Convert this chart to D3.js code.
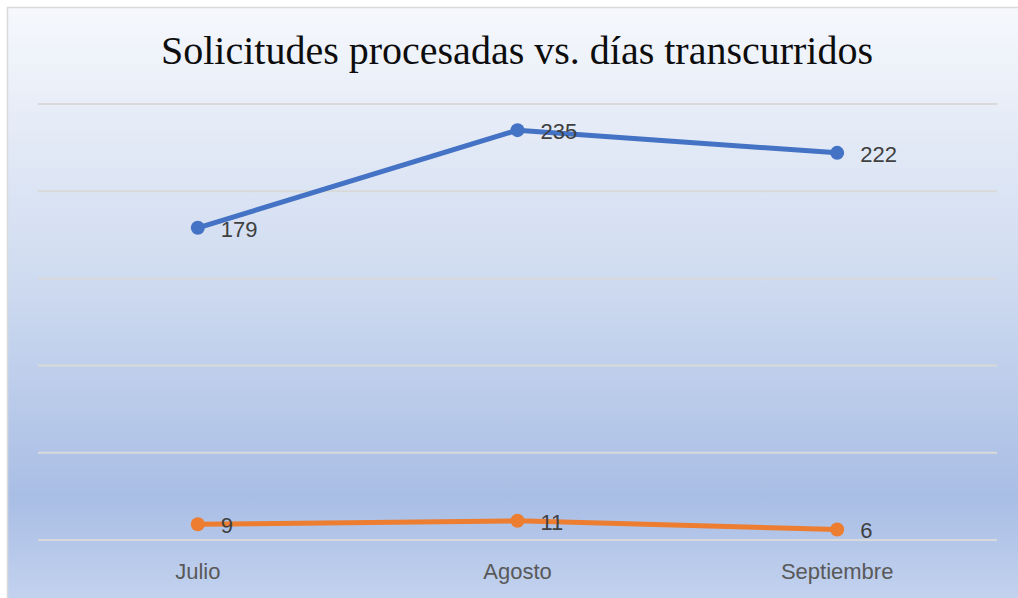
<!DOCTYPE html>
<html>
<head>
<meta charset="utf-8">
<script src="https://cdn.jsdelivr.net/npm/d3@7"></script>
<style>
  body { margin: 0; background: #fff; }
</style>
</head>
<body>
<div id="container"></div>
<script>
// Data
const months = ["Julio", "Agosto", "Septiembre"];
const solicitudes = [179, 235, 222];
const dias = [9, 11, 6];
const yTicks = [0, 50, 100, 150, 200, 250];

const W = 1018, H = 598;
const svg = d3.select("#container").append("svg")
  .attr("width", W).attr("height", H);

// Background gradient
const defs = svg.append("defs");
const grad = defs.append("linearGradient")
  .attr("id", "bg").attr("x1", 0).attr("y1", 0).attr("x2", 0).attr("y2", 1);
grad.append("stop").attr("offset", "0%").attr("stop-color", "#f6f8fc");
grad.append("stop").attr("offset", "45%").attr("stop-color", "#cfdbf0");
grad.append("stop").attr("offset", "82%").attr("stop-color", "#a9bee5");
grad.append("stop").attr("offset", "100%").attr("stop-color", "#c4d3ef");

svg.append("rect")
  .attr("x", 7.5).attr("y", 7.5)
  .attr("width", W).attr("height", H)
  .attr("fill", "url(#bg)")
  .attr("stroke", "#d9d9d9").attr("stroke-width", 1.5);

// Title
svg.append("text")
  .attr("x", 517).attr("y", 64)
  .attr("text-anchor", "middle")
  .attr("font-family", "'Liberation Serif', serif")
  .attr("font-size", 40)
  .attr("fill", "#0d0d0d")
  .text("Solicitudes procesadas vs. días transcurridos");

const margin = { left: 38, right: 21, top: 104, bottom: 58 };
const x = d3.scaleBand().domain(months).range([margin.left, W - margin.right]);
const y = d3.scaleLinear().domain([0, 250]).range([H - margin.bottom, margin.top]);

// Gridlines
svg.append("g").selectAll("line")
  .data(yTicks)
  .enter().append("line")
  .attr("x1", margin.left).attr("x2", W - margin.right)
  .attr("y1", d => y(d)).attr("y2", d => y(d))
  .attr("stroke", "#d9d9d9").attr("stroke-width", 2);

// X axis labels
const xAxis = svg.append("g")
  .attr("transform", "translate(0," + (H - margin.bottom) + ")")
  .call(d3.axisBottom(x).tickSize(0).tickPadding(23));
xAxis.select(".domain").remove();
xAxis.selectAll("text")
  .attr("font-family", "'Liberation Sans', sans-serif")
  .attr("font-size", 22)
  .attr("fill", "#595959");

const series = [
  { name: "Solicitudes procesadas", values: solicitudes, color: "#4472c4" },
  { name: "Días transcurridos", values: dias, color: "#ed7d31" },
];

const line = d3.line()
  .x((d, i) => x(months[i]) + x.bandwidth() / 2)
  .y(d => y(d));

series.forEach(s => {
  const g = svg.append("g");
  g.append("path")
    .datum(s.values)
    .attr("d", line)
    .attr("fill", "none")
    .attr("stroke", s.color)
    .attr("stroke-width", 5)
    .attr("stroke-linejoin", "round")
    .attr("stroke-linecap", "round");
  g.selectAll("circle")
    .data(s.values)
    .enter().append("circle")
    .attr("cx", (d, i) => x(months[i]) + x.bandwidth() / 2)
    .attr("cy", d => y(d))
    .attr("r", 7)
    .attr("fill", s.color);
  g.selectAll("text")
    .data(s.values)
    .enter().append("text")
    .attr("x", (d, i) => x(months[i]) + x.bandwidth() / 2 + 23)
    .attr("y", d => y(d) + 1)
    .attr("dy", "0.35em")
    .attr("font-family", "'Liberation Sans', sans-serif")
    .attr("font-size", 22)
    .attr("fill", "#404040")
    .text(d => d);
});
</script>
</body>
</html>
